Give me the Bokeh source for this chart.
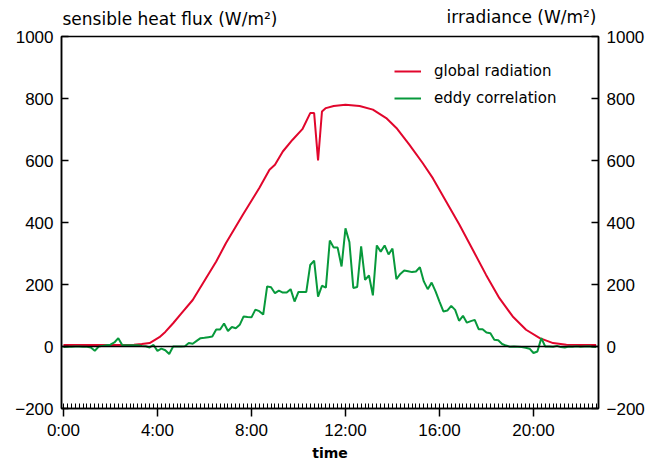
from bokeh.plotting import figure
from bokeh.models import Range1d, LinearAxis, FixedTicker, Span, Label, Title
from bokeh.embed import file_html
from bokeh.resources import INLINE

# ---------------- data (time in minutes after midnight) ----------------
rad_time = [0, 60, 120, 180, 200, 220, 245, 260, 280, 300, 330, 390, 415, 458, 500,
            526, 540, 560, 585, 610, 630, 640, 650, 660, 670, 690, 720, 756, 790, 824,
            850, 883, 917, 943, 977, 1011, 1045, 1079, 1113, 1147, 1181, 1216, 1250,
            1284, 1320, 1360]
rad_value = [5, 5, 5, 6, 8, 11, 30, 47, 75, 105, 150, 274, 334, 425, 511,
             570, 586, 629, 667, 701, 753, 753, 600, 758, 769, 776, 780, 776, 764, 737,
             705, 651, 592, 543, 468, 393, 312, 231, 156, 97, 54, 27, 11,
             6, 5, 5]

eddy_time = [0, 10, 20, 30, 40, 50, 60, 70, 80, 90, 100, 110, 120, 130, 140, 150,
             160, 170, 180, 190, 200, 210, 220, 230, 240, 250, 260, 270, 280, 290,
             300, 310, 320, 330, 340, 350, 360, 370, 380, 390, 400, 410, 420, 430,
             440, 450, 460, 470, 480, 490, 500, 510, 520, 530, 540, 550, 560, 570,
             580, 590, 600, 610, 620, 630, 640, 650, 660, 670, 680, 690, 700, 710,
             720, 730, 740, 750, 760, 770, 780, 790, 800, 810, 820, 830, 840, 850,
             860, 870, 880, 890, 900, 910, 920, 930, 940, 950, 960, 970, 980, 990,
             1000, 1010, 1020, 1030, 1040, 1050, 1060, 1070, 1080, 1090, 1100, 1110,
             1120, 1130, 1140, 1150, 1160, 1170, 1180, 1190, 1200, 1210, 1220, 1230,
             1240, 1250, 1260, 1270, 1280, 1290, 1300, 1310, 1320, 1330, 1340, 1350,
             1360]
eddy_value = [-2, -1, -1, 0, 0, -1, -1, -3, -14, 0, 2, 4, 6, 13, 27, 5,
              4, 4, 4, 4, 2, 1, -3, 5, -14, -7, -12, -24, 0, 0,
              0, 1, 11, 9, 18, 27, 28, 30, 32, 55, 55, 74, 50, 63,
              59, 70, 97, 95, 94, 119, 114, 103, 194, 191, 172, 180, 174, 174,
              185, 145, 176, 176, 176, 263, 277, 161, 196, 190, 342, 319, 319, 258,
              381, 337, 189, 192, 323, 215, 229, 165, 326, 306, 326, 297, 316, 217,
              234, 245, 243, 240, 242, 256, 210, 185, 206, 178, 145, 113, 116, 131,
              118, 83, 99, 77, 82, 86, 56, 56, 45, 43, 22, 20,
              8, 3, -1, 0, -1, -2, -4, -7, -21, -16, 27, 0,
              0, -1, 2, -2, -3, 0, -1, 1, -1, 0, 1, -1,
              -2]

x_tick_pos = [0, 240, 480, 720, 960, 1200]
x_tick_labels = ["0:00", "4:00", "8:00", "12:00", "16:00", "20:00"]
y_ticks = [-200, 0, 200, 400, 600, 800, 1000]

RED = "#e1062c"
GREEN = "#07993b"
FONT = "DejaVu Sans"
NUMFONT = "Liberation Sans"

p = figure(width=660, height=463,
           x_range=Range1d(-5, 1366), y_range=Range1d(-200, 1000),
           output_backend="svg", toolbar_location=None,
           min_border_left=61, min_border_right=62, min_border_top=36,
           min_border_bottom=54,
           background_fill_color="white", border_fill_color="white")
p.xgrid.visible = False
p.ygrid.visible = False
p.outline_line_color = "black"
p.outline_line_width = 1.5
p.outline_line_alpha = 1

# bottom axis
xa = p.xaxis[0]
xa.ticker = FixedTicker(ticks=x_tick_pos, minor_ticks=list(range(0, 1366, 10)))
xa.major_label_overrides = {k: v for k, v in zip(x_tick_pos, x_tick_labels)}
xa.major_tick_in = 0
xa.major_tick_out = 8
xa.minor_tick_in = 5
xa.minor_tick_out = 0
xa.major_tick_line_width = 1.5
xa.minor_tick_line_width = 1
xa.axis_line_width = 1.5
xa.major_label_text_font = NUMFONT
xa.major_label_text_font_size = "17px"
xa.major_label_text_color = "black"
xa.major_label_standoff = 4
xa.axis_label = "time"
xa.axis_label_text_font = FONT
xa.axis_label_text_font_size = "14px"
xa.axis_label_text_font_style = "bold"
xa.axis_label_text_color = "black"
xa.axis_label_standoff = 2

def style_y(ax):
    ax.ticker = FixedTicker(ticks=y_ticks)
    ax.major_tick_in = 7
    ax.major_tick_out = 0
    ax.minor_tick_in = 0
    ax.minor_tick_out = 0
    ax.major_tick_line_width = 1.5
    ax.axis_line_width = 1.5
    ax.major_label_text_font = NUMFONT
    ax.major_label_text_font_size = "17px"
    ax.major_label_text_color = "black"
    ax.major_label_standoff = 8

style_y(p.yaxis[0])
ra = LinearAxis()
style_y(ra)
p.add_layout(ra, "right")

# zero line
p.add_layout(Span(location=0, dimension="width", line_color="black", line_width=1.5))

p.line(rad_time, rad_value, line_color=RED, line_width=2, legend_label="global radiation")
p.line(eddy_time, eddy_value, line_color=GREEN, line_width=2, legend_label="eddy correlation")

lg = p.legend[0]
lg.location = (333, 300)
lg.border_line_color = None
lg.background_fill_alpha = 0
lg.padding = 0
lg.margin = 0
lg.spacing = 7
lg.glyph_width = 27
lg.glyph_height = 20
lg.label_height = 20
lg.label_standoff = 13
lg.label_text_font = FONT
lg.label_text_font_size = "15px"
lg.label_text_color = "black"

# left header (above panel, positioned in data coordinates)
p.add_layout(Label(x=-5, y=1000, text="sensible heat flux (W/m²)", text_font=FONT,
                   text_font_size="17px", text_baseline="middle", text_color="black",
                   y_offset=18, x_offset=1), "above")
# right header as a title whose row takes (almost) no height
p.add_layout(Title(text="irradiance (W/m²)", align="right", vertical_align="bottom",
                   text_font=FONT, text_font_size="17px", text_font_style="normal",
                   text_color="black", standoff=-21, offset=2), "above")

open("out.html", "w").write(file_html(p, INLINE))
